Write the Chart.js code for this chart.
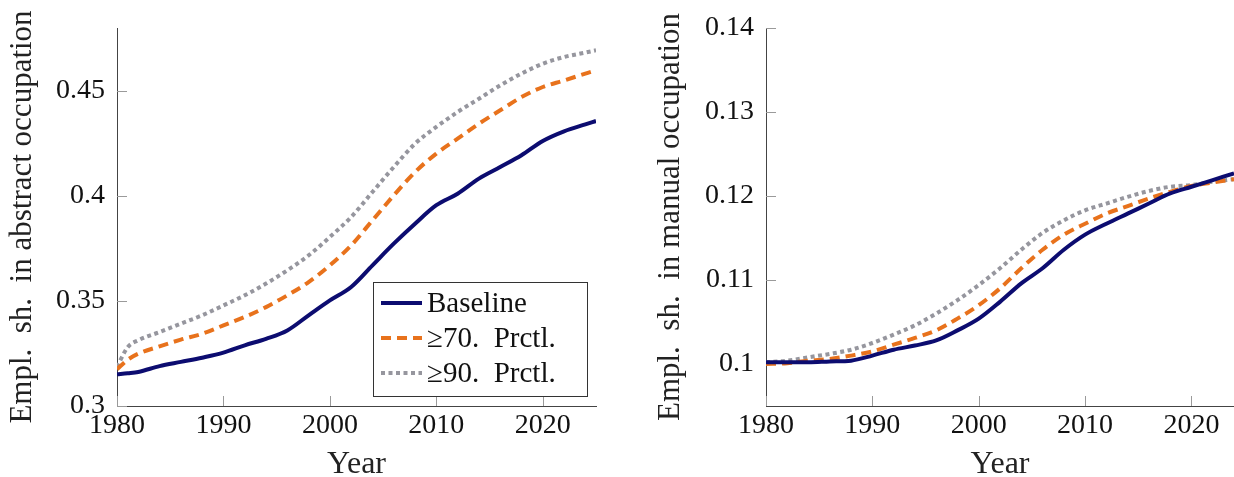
<!DOCTYPE html>
<html>
<head>
<meta charset="utf-8">
<script src="https://cdn.jsdelivr.net/npm/chart.js@4"></script>
<style>
  html, body { margin: 0; padding: 0; background: #fff; }
  .panel { position: absolute; top: 0; width: 617px; height: 477px; }
</style>
</head>
<body>
<div class="panel" style="left:0"><canvas id="abstractChart"></canvas></div>
<div class="panel" style="left:617px"><canvas id="manualChart"></canvas></div>
<script>
// ---- data ----
var seriesNames = ["Baseline", "\u226570.  Prctl.", "\u226590.  Prctl."];
var xTicks = [1980, 1990, 2000, 2010, 2020];

var abstractYears = [1980, 1981, 1982, 1984, 1986, 1988, 1990, 1992, 1994, 1996, 1998, 2000, 2002,
                     2004, 2006, 2008, 2010, 2012, 2014, 2016, 2018, 2020, 2022, 2024, 2025];
var abstractBaseline = [0.3151, 0.3156, 0.3162, 0.3190, 0.3210, 0.3230, 0.3254, 0.3289, 0.3320, 0.3360,
                        0.3432, 0.3503, 0.3567, 0.3670, 0.3773, 0.3868, 0.3956, 0.4011, 0.4083, 0.4138,
                        0.4194, 0.4262, 0.4308, 0.4341, 0.4357];
var abstractP70 = [0.3175, 0.3220, 0.3249, 0.3284, 0.3316, 0.3344, 0.3384, 0.3424, 0.3471, 0.3527,
                   0.3590, 0.3670, 0.3765, 0.3884, 0.4003, 0.4114, 0.4202, 0.4273, 0.4344, 0.4408,
                   0.4471, 0.4519, 0.4550, 0.4583, 0.4598];
var abstractP90 = [0.3186, 0.3280, 0.3313, 0.3352, 0.3392, 0.3432, 0.3479, 0.3527, 0.3583, 0.3646,
                   0.3717, 0.3805, 0.3900, 0.4019, 0.4138, 0.4249, 0.4329, 0.4400, 0.4463, 0.4527,
                   0.4583, 0.4630, 0.4662, 0.4683, 0.4694];
var abstractYTicks = [0.3, 0.35, 0.4, 0.45];

var manualYears = [1980, 1982, 1984, 1986, 1988, 1990, 1992, 1994, 1996, 1998, 2000, 2002,
                   2004, 2006, 2008, 2010, 2012, 2014, 2016, 2018, 2020, 2022, 2024];
var manualBaseline = [0.1002, 0.1002, 0.1002, 0.1003, 0.1004, 0.1010, 0.1017, 0.1022, 0.1028, 0.1040,
                      0.1054, 0.1074, 0.1096, 0.1114, 0.1136, 0.1154, 0.1167, 0.1179, 0.1191, 0.1203,
                      0.1211, 0.1219, 0.1227];
var manualP70 = [0.1000, 0.1001, 0.1004, 0.1006, 0.1010, 0.1015, 0.1023, 0.1031, 0.1040, 0.1054,
                 0.1070, 0.1090, 0.1114, 0.1136, 0.1154, 0.1167, 0.1179, 0.1188, 0.1197, 0.1205,
                 0.1212, 0.1216, 0.1220];
var manualP90 = [0.1002, 0.1004, 0.1008, 0.1012, 0.1017, 0.1025, 0.1035, 0.1046, 0.1060, 0.1076,
                 0.1094, 0.1114, 0.1136, 0.1156, 0.1171, 0.1183, 0.1191, 0.1199, 0.1206, 0.1211,
                 0.1213, 0.1217, 0.1220];
var manualYTicks = [0.1, 0.11, 0.12, 0.13, 0.14];

// ---- styling ----
var FONT = "'Liberation Serif', 'DejaVu Serif', serif";
var styles = [
  { color: "#0c0c70", dash: [] },
  { color: "#e8721c", dash: [10, 6] },
  { color: "#96969e", dash: [4, 3.5] }
];

function points(xs, ys) {
  var out = [];
  for (var i = 0; i < xs.length; i++) out.push({ x: xs[i], y: ys[i] });
  return out;
}

function makeDatasets(xs, lists) {
  return lists.map(function (ys, i) {
    return {
      label: seriesNames[i],
      data: points(xs, ys),
      borderColor: styles[i].color,
      backgroundColor: styles[i].color,
      borderWidth: 4,
      borderDash: styles[i].dash,
      borderCapStyle: "butt",
      pointRadius: 0,
      fill: false,
      cubicInterpolationMode: "monotone"
    };
  });
}

// inward tick marks like pgfplots
var innerTicks = {
  id: "innerTicks",
  beforeDatasetsDraw: function (chart) {
    var ctx = chart.ctx, a = chart.chartArea;
    var xs = chart.scales.x, ys = chart.scales.y;
    ctx.save();
    ctx.strokeStyle = "#9a9a9a";
    ctx.lineWidth = 1;
    ctx.beginPath();
    xs.ticks.forEach(function (t) {
      var px = Math.round(xs.getPixelForValue(t.value)) + 0.5;
      ctx.moveTo(px, a.bottom);
      ctx.lineTo(px, a.bottom - 10);
    });
    ys.ticks.forEach(function (t) {
      var py = Math.round(ys.getPixelForValue(t.value)) + 0.5;
      ctx.moveTo(a.left, py);
      ctx.lineTo(a.left + 10, py);
    });
    ctx.stroke();
    ctx.restore();
  }
};

// legend box inside the plot, lower right
var boxLegend = {
  id: "boxLegend",
  afterDatasetsDraw: function (chart, args, opts) {
    if (!opts.show) return;
    var ctx = chart.ctx, a = chart.chartArea;
    var w = 214, h = 114;
    var x0 = a.right - 9 - w, y0 = a.bottom - 10 - h;
    ctx.save();
    ctx.fillStyle = "#fff";
    ctx.fillRect(x0, y0, w, h);
    ctx.strokeStyle = "#333";
    ctx.lineWidth = 1;
    ctx.strokeRect(Math.round(x0) + 0.5, Math.round(y0) + 0.5, w, h);
    ctx.font = "29px " + FONT;
    ctx.textBaseline = "middle";
    ctx.fillStyle = "#111";
    chart.data.datasets.forEach(function (ds, i) {
      var cy = y0 + 21 + i * 35;
      ctx.strokeStyle = ds.borderColor;
      ctx.lineWidth = ds.borderWidth;
      ctx.setLineDash(ds.borderDash);
      ctx.beginPath();
      ctx.moveTo(x0 + 8, cy);
      ctx.lineTo(x0 + 49, cy);
      ctx.stroke();
      ctx.setLineDash([]);
      ctx.fillText(ds.label, x0 + 54, cy + 1);
    });
    ctx.restore();
  }
};

function fmt(v) { return String(+Number(v).toFixed(3)); }

function makeChart(id, xs, lists, yTicks, yMin, yMax, xMax, yTitle, yWidth, titlePad, padRight, showLegend) {
  return new Chart(document.getElementById(id), {
    type: "line",
    data: { datasets: makeDatasets(xs, lists) },
    plugins: [innerTicks, boxLegend],
    options: {
      responsive: true,
      maintainAspectRatio: false,
      animation: false,
      layout: { padding: { top: 28, right: padRight, left: 0, bottom: 0 } },
      plugins: {
        legend: { display: false },
        tooltip: { enabled: false },
        boxLegend: { show: showLegend }
      },
      scales: {
        x: {
          type: "linear",
          min: 1980,
          max: xMax,
          afterBuildTicks: function (s) { s.ticks = xTicks.map(function (v) { return { value: v }; }); },
          afterFit: function (s) { s.height = 71; },
          grid: { display: false },
          border: { display: true, color: "#444", width: 1 },
          ticks: {
            color: "#111",
            padding: -5,
            maxRotation: 0,
            font: { family: FONT, size: 28 },
            callback: function (v) { return String(v); }
          },
          title: {
            display: true,
            text: "Year",
            color: "#222",
            padding: { top: 0, bottom: -4 },
            font: { family: FONT, size: 32, lineHeight: 1 }
          }
        },
        y: {
          type: "linear",
          min: yMin,
          max: yMax,
          afterBuildTicks: function (s) { s.ticks = yTicks.map(function (v) { return { value: v }; }); },
          afterFit: function (s) { s.width = yWidth; },
          grid: { display: false },
          border: { display: true, color: "#444", width: 1 },
          ticks: {
            color: "#111",
            padding: 4,
            font: { family: FONT, size: 28 },
            callback: function (v) { return fmt(v); }
          },
          title: {
            display: true,
            text: yTitle,
            color: "#222",
            padding: { top: titlePad, bottom: 0 },
            font: { family: FONT, size: 31, lineHeight: 1 }
          }
        }
      }
    }
  });
}

makeChart("abstractChart", abstractYears, [abstractBaseline, abstractP70, abstractP90],
  abstractYTicks, 0.3, 0.48, 2025, "Empl.  sh.  in abstract occupation", 117, 7, 21, true);
makeChart("manualChart", manualYears, [manualBaseline, manualP70, manualP90],
  manualYTicks, 0.095, 0.14, 2024, "Empl.  sh.  in manual occupation", 149, 38, 0, false);
</script>
</body>
</html>
